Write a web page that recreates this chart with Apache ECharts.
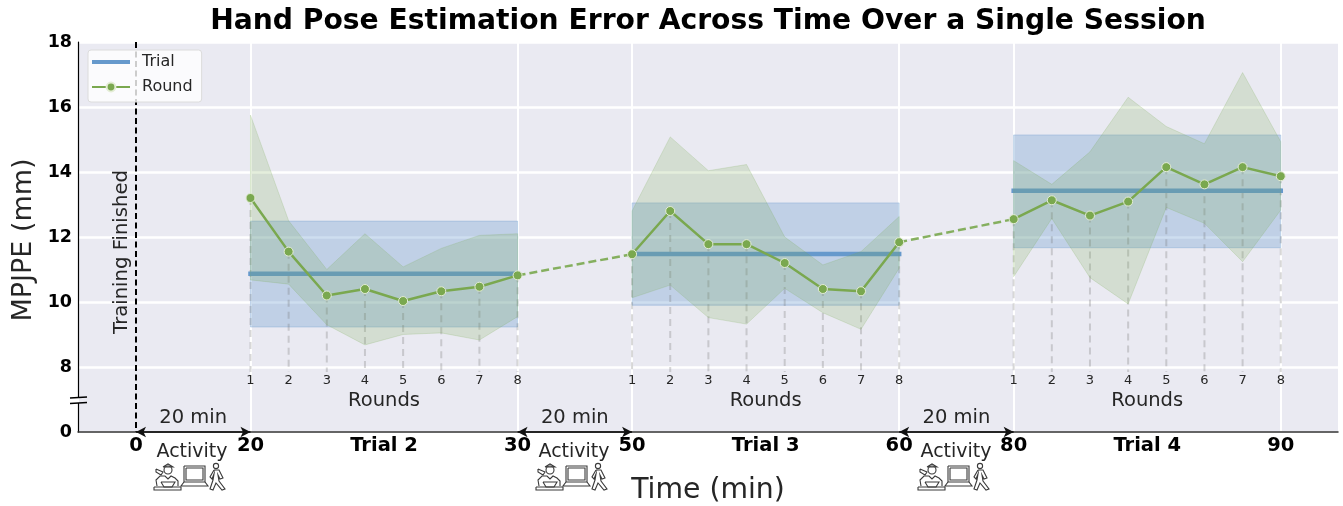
<!DOCTYPE html>
<html>
<head>
<meta charset="utf-8">
<script src="https://cdn.jsdelivr.net/npm/echarts@6/dist/echarts.min.js"></script>
<style>
    html, body { margin: 0; padding: 0; background: #fff; }
    #main { width: 1343px; height: 506px; }
</style>
</head>
<body>
<div id="main"></div>
<script type="text/javascript">
    // x is in "round steps": one round = 1, a 20 min gap = 3 (the time axis is compressed)
    var xTicks = [3, 10, 13, 20, 23, 30];
    var xLabelPos = [0, 3, 6.5, 10, 13, 16.5, 20, 23, 26.5, 30];
    var xLabels = ['0', '20', 'Trial 2', '30', '50', 'Trial 3', '60', '80', 'Trial 4', '90'];
    var yTicks = [6, 8, 10, 12, 14, 16, 18];
    var yLabels = ['0', '8', '10', '12', '14', '16', '18'];

    var roundNames = [1, 2, 3, 4, 5, 6, 7, 8];
    var trialStart = [3, 13, 23];

    var trialMean = [10.87, 11.48, 13.42];
    var trialUpper = [12.49, 13.05, 15.14];
    var trialLower = [9.23, 9.9, 11.67];

    var round2 = [13.2, 11.55, 10.2, 10.4, 10.03, 10.33, 10.47, 10.82];
    var upper2 = [15.75, 12.5, 11.0, 12.1, 11.08, 11.65, 12.05, 12.1];
    var lower2 = [10.68, 10.55, 9.3, 8.68, 9.0, 9.05, 8.83, 9.55];

    var round3 = [11.47, 12.8, 11.78, 11.78, 11.2, 10.4, 10.33, 11.84];
    var upper3 = [12.8, 15.08, 14.04, 14.23, 12.0, 11.14, 11.55, 12.63];
    var lower3 = [10.13, 10.52, 9.52, 9.32, 10.42, 9.67, 9.16, 11.04];

    var round4 = [12.55, 13.13, 12.66, 13.09, 14.15, 13.62, 14.15, 13.87];
    var upper4 = [14.35, 13.62, 14.62, 16.3, 15.4, 14.87, 17.06, 14.93];
    var lower4 = [10.78, 12.57, 10.75, 9.94, 12.91, 12.42, 11.24, 12.83];

    var rounds = [round2, round3, round4];
    var uppers = [upper2, upper3, upper4];
    var lowers = [lower2, lower3, lower4];

    var BLUE = '#6699cc', GREEN = '#7aa84f', TXT = '#262626';
    var FONT = '"DejaVu Sans", sans-serif';
    var DROP_TO = 7.85;

    function pairs(start, vals) {
        return vals.map(function (v, i) { return [start + i, v]; });
    }

    // filled polygon between lower and upper, through the axis scales
    function bandSeries(lo, hi, start, color, opacity, z) {
        return {
            type: 'custom',
            z: z,
            silent: true,
            clip: false,
            data: [[start]],
            renderItem: function (params, api) {
                var pts = [];
                lo.forEach(function (v, i) { pts.push(api.coord([start + i * (7 / (lo.length - 1)), v])); });
                for (var i = hi.length - 1; i >= 0; i--) {
                    pts.push(api.coord([start + i * (7 / (hi.length - 1)), hi[i]]));
                }
                return {
                    type: 'polygon',
                    shape: { points: pts },
                    style: { fill: color, opacity: opacity, stroke: color, lineWidth: 1 }
                };
            }
        };
    }

    var series = [];

    // vertical dashed drops
    rounds.forEach(function (r, t) {
        series.push({
            type: 'custom', z: 3, silent: true,
            data: pairs(trialStart[t], r),
            renderItem: function (params, api) {
                var a = api.coord([api.value(0), api.value(1)]);
                var b = api.coord([api.value(0), DROP_TO]);
                return {
                    type: 'line',
                    shape: { x1: a[0], y1: a[1], x2: b[0], y2: b[1] },
                    style: { stroke: 'rgba(110,110,110,0.28)', lineWidth: 2, lineDash: [7, 5] }
                };
            }
        });
    });

    trialStart.forEach(function (s, t) {
        series.push(bandSeries([trialLower[t], trialLower[t]], [trialUpper[t], trialUpper[t]], s, BLUE, 0.32, 2));
        series.push({
            name: 'Trial', type: 'line', z: 4, symbol: 'none', silent: true,
            data: [[s, trialMean[t]], [s + 7, trialMean[t]]],
            lineStyle: { color: BLUE, width: 4.5, cap: 'square' },
            itemStyle: { color: BLUE }
        });
        series.push(bandSeries(lowers[t], uppers[t], s, GREEN, 0.2, 5));
        series.push({
            name: 'Round', type: 'line', z: 7, silent: true,
            data: pairs(s, rounds[t]),
            symbol: 'circle', symbolSize: 9,
            lineStyle: { color: GREEN, width: 2.5 },
            itemStyle: { color: GREEN, borderColor: '#e4edd6', borderWidth: 1 }
        });
    });

    // dashed links between trials
    [0, 1].forEach(function (t) {
        series.push({
            type: 'line', z: 6, silent: true, symbol: 'none',
            data: [[trialStart[t] + 7, rounds[t][7]], [trialStart[t + 1], rounds[t + 1][0]]],
            lineStyle: { color: GREEN, width: 2.5, type: [8, 4], opacity: 0.9 }
        });
    });

    // round numbers, "Rounds", "20 min"
    function textSeries(points, text, size) {
        return {
            type: 'scatter', z: 8, silent: true, symbolSize: 0,
            data: points,
            itemStyle: { opacity: 1 },
            label: {
                show: true, position: 'inside', color: TXT, opacity: 1, fontFamily: FONT, fontSize: size,
                formatter: function (p) { return text[p.dataIndex]; }
            }
        };
    }
    trialStart.forEach(function (s) {
        series.push(textSeries(roundNames.map(function (n, i) { return [s + i, 7.57]; }), roundNames, 13));
    });
    series.push(textSeries(trialStart.map(function (s) { return [s + 3.5, 6.95]; }), ['Rounds', 'Rounds', 'Rounds'], 19.5));
    series.push(textSeries(trialStart.map(function (s) { return [s - 1.5, 6.43]; }), ['20 min', '20 min', '20 min'], 19.5));

    // training finished line
    series.push({
        type: 'custom', z: 9, silent: true, clip: false,
        data: [[0]],
        renderItem: function (params, api) {
            var a = api.coord([api.value(0), 18]);
            var b = api.coord([api.value(0), 6]);
            return {
                type: 'line',
                shape: { x1: a[0], y1: a[1], x2: b[0], y2: b[1] },
                style: { stroke: '#000', lineWidth: 2, lineDash: [6, 3.5] }
            };
        }
    });
    // gap arrows
    series.push({
        type: 'line', z: 9, silent: true, clip: false, data: [], symbol: 'none',
        markLine: {
            silent: true, symbol: ['arrow', 'arrow'], symbolSize: [8, 10], animation: false, label: { show: false },
            lineStyle: { color: '#111', width: 1.5, type: 'solid' },
            data: trialStart.map(function (s) { return [{ coord: [s - 3, 6] }, { coord: [s, 6] }]; })
        }
    });

    function activityIcons(dx) {
        var ln = { stroke: '#3a3a3a', fill: 'none', lineWidth: 1.1 };
        function poly(points, extra) {
            return {
                type: 'polyline', silent: true,
                shape: { points: points.map(function (p) { return [p[0] + dx, p[1]]; }) },
                style: extra || ln
            };
        }
        function dot(x, y, r) {
            return { type: 'circle', silent: true, shape: { cx: x + dx, cy: y, r: r }, style: ln };
        }
        return [
            // person at a desk
            dot(168, 470, 4),
            poly([[163, 467], [168, 464], [173, 467], [163, 467]]),
            poly([[156, 469], [163, 472], [161, 475], [156, 472], [156, 469]]),
            poly([[157, 486], [156, 480], [160, 476], [165, 476], [168, 479], [171, 476], [175, 478], [178, 481], [178, 486]]),
            poly([[161, 482], [175, 482], [172, 487], [164, 487], [161, 482]]),
            poly([[154, 487], [181, 487], [181, 490], [154, 490], [154, 487]]),
            // laptop
            poly([[184, 466], [205, 466], [205, 482], [184, 482], [184, 466]]),
            poly([[186, 468], [203, 468], [203, 480], [186, 480], [186, 468]]),
            poly([[184, 482], [181, 486], [208, 486], [205, 482]]),
            // walker
            dot(216, 466, 2.6),
            poly([[214, 470], [219, 470], [223, 478], [220, 479], [218, 475], [219, 481], [225, 489], [222, 490], [216, 483], [213, 490], [210, 489], [213, 480], [214, 474], [212, 479], [210, 477], [214, 470]])
        ];
    }

    var graphics = [
        { type: 'text', silent: true, x: 708, y: 22,
          style: { text: 'Hand Pose Estimation Error Across Time Over a Single Session', fill: '#000', font: 'bold 28.2px ' + FONT, align: 'center', verticalAlign: 'middle' } },
        { type: 'text', silent: true, x: 24, y: 240, rotation: Math.PI / 2,
          style: { text: 'MPJPE (mm)', fill: TXT, font: '27px ' + FONT, align: 'center', verticalAlign: 'middle' } },
        { type: 'text', silent: true, x: 708, y: 491,
          style: { text: 'Time (min)', fill: TXT, font: '28.3px ' + FONT, align: 'center', verticalAlign: 'middle' } },
        { type: 'text', silent: true, z: 20, x: 122, y: 252, rotation: Math.PI / 2,
          style: { text: 'Training Finished', fill: TXT, font: '19.6px ' + FONT, align: 'center', verticalAlign: 'middle' } },
        // axis break: gap in the spine and two marks
        { type: 'line', silent: true, z: 20, shape: { x1: 78, y1: 398, x2: 78, y2: 403 }, style: { stroke: '#fff', lineWidth: 3 } },
        { type: 'line', silent: true, z: 21, shape: { x1: 70, y1: 398, x2: 87, y2: 397 }, style: { stroke: '#000', lineWidth: 1.4 } },
        { type: 'line', silent: true, z: 21, shape: { x1: 70, y1: 403.5, x2: 87, y2: 402.5 }, style: { stroke: '#000', lineWidth: 1.4 } }
    ];
    [0, 382, 764].forEach(function (dx) {
        graphics.push({ type: 'text', silent: true, x: 192 + dx, y: 452,
            style: { text: 'Activity', fill: TXT, font: '19px ' + FONT, align: 'center', verticalAlign: 'middle' } });
        graphics = graphics.concat(activityIcons(dx));
    });

    var myChart = echarts.init(document.getElementById('main'), null, { renderer: 'canvas' });

    var option = {
        animation: false,
        backgroundColor: '#fff',
        textStyle: { fontFamily: FONT },
        grid: {
            left: 78, right: 5, top: 42, bottom: 74,
            show: true, backgroundColor: '#eaeaf2', borderWidth: 0
        },
        legend: {
            data: [{ name: 'Trial', icon: 'path://M0,0H38V4H0Z' }, { name: 'Round' }],
            orient: 'vertical',
            left: 88, top: 50, z: 30,
            padding: [4, 9, 7, 3],
            itemWidth: 38, itemHeight: 11, itemGap: 9,
            backgroundColor: 'rgba(255,255,255,0.8)',
            borderColor: '#dcdcdc', borderWidth: 1, borderRadius: 3,
            selectedMode: false,
            textStyle: { color: TXT, fontSize: 16, fontFamily: FONT, padding: [0, 0, 0, 7] }
        },
        xAxis: {
            type: 'value',
            min: -1.52, max: 31.5,
            axisLine: { show: true, onZero: false, lineStyle: { color: '#333', width: 1.5 } },
            axisTick: { show: false, customValues: xTicks },
            splitLine: { show: true, lineStyle: { color: '#fff', width: 2 } },
            axisLabel: {
                customValues: xLabelPos,
                margin: 4,
                color: '#000', fontWeight: 'bold', fontSize: 19.5, fontFamily: FONT,
                formatter: function (v) { return xLabels[xLabelPos.indexOf(v)]; }
            }
        },
        yAxis: {
            type: 'value',
            min: 6, max: 18, interval: 2,
            axisLine: { show: true, onZero: false, lineStyle: { color: '#000', width: 1.2 } },
            axisTick: { show: false },
            splitLine: { show: true, lineStyle: { color: '#fff', width: 2.5 } },
            axisLabel: {
                margin: 6,
                color: '#000', fontWeight: 'bold', fontSize: 17.5, fontFamily: FONT,
                formatter: function (v) { return yLabels[yTicks.indexOf(v)]; }
            }
        },
        graphic: graphics,
        series: series
    };

    myChart.setOption(option);
</script>
</body>
</html>
